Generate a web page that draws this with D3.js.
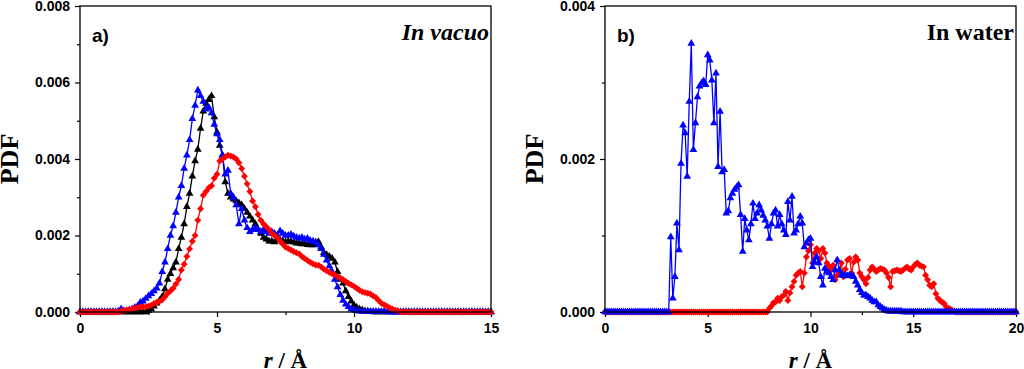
<!DOCTYPE html>
<html><head><meta charset="utf-8">
<script src="https://cdn.jsdelivr.net/npm/d3@7"></script>
<style>body{margin:0;background:#fff}svg{display:block}</style>
</head><body>
<svg id="c" width="1024" height="369"></svg>
<script>
// ---- DATA (PDF values in units of 1e-4, r sampled every 0.1 Å) ----
const rStep = 0.1;
const xTicksA = [0, 5, 10, 15];
const xMinorA = [2.5, 7.5, 12.5];
const yTicksA = [0, 0.002, 0.004, 0.006, 0.008];
const yMinorA = [0.001, 0.003, 0.005, 0.007];
const xTicksB = [0, 5, 10, 15, 20];
const xMinorB = [2.5, 7.5, 12.5, 17.5];
const yTicksB = [0, 0.002, 0.004];
const yMinorB = [0.001, 0.003];

// Panel a) in vacuo, r = 0.0 ... 15.0
const blueVacuo = [
 0,0,0,0,0,0,0,0,0,0,
 0,0,0,0,0.2,0.8,0.3,0.3,0.5,0.8,
 1.2,1.5,2.5,2.8,3.5,4.2,4.8,5.5,6.2,7.5,
 10.5,13,16.5,20,22.5,26,30,33,37.5,41,
 45,50.5,54,58,56.5,55,53,53.5,52,49,
 46.5,45,41,36,37,31,30,28,23,27,
 24,22,21,21.5,22,21.5,21,21.5,21,20.5,
 21,20.5,20,21.2,20.5,20,20,20.3,19.8,19.5,
 19.3,19.5,19,19.2,18.7,18.5,18.3,17.5,16.5,15,
 13.5,12,10.5,8.5,6.5,4.5,3,2,1.4,0.8,
 0.5,0.3,0.2,0.1,0.1,0.1,0.1,0.1,0.1,0.1,
 0.1,0.1,0.1,0,0,0,0,0,0,0,
 0,0,0,0,0,0,0,0,0,0,
 0,0,0,0,0,0,0,0,0,0,
 0,0,0,0,0,0,0,0,0,0,
 0];
const blackVacuo = [
 0,0,0,0,0,0,0,0,0,0,
 0,0,0,0,0,0,0,0,0,0,
 0,0,0,0,0,0.3,0.8,1.5,2.3,3,
 4,6,8.5,10,11.5,13,16.5,19.5,23,27.5,
 31,35.5,39.5,42.5,48,52.5,54.5,55.5,56.5,51,
 47,43.5,41,34,31,30,29.5,29,28.5,28,
 27,26,25,24,23,21.5,20.5,19.5,19,18.5,
 18.5,18.3,18.8,18.8,18.5,18.3,18.5,18.4,18.2,18,
 18,17.8,17.8,17.6,17.5,17.5,17.8,18.4,17,15.5,
 15,14.5,14,13,10.5,8.5,7.5,5.5,4,2.8,
 1.8,1.2,0.8,0.5,0.3,0.2,0.1,0,0,0,
 0,0,0,0,0,0,0,0,0,0,
 0,0,0,0,0,0,0,0,0,0,
 0,0,0,0,0,0,0,0,0,0,
 0,0,0,0,0,0,0,0,0,0,
 0];
const redVacuo = [
 0,0,0,0,0,0,0,0,0,0,
 0,0,0,0,0,0.3,0.4,0.5,0.6,0.8,
 1,1.2,1.4,1.3,1.4,1.5,1.8,2.2,2.5,2.8,
 3.2,4,4.9,5.5,6.2,7.3,8.5,11,12.5,14.5,
 16.5,18.5,20,24,27,30.5,31.5,32.5,33,35,
 36,39.5,40,40.5,41,40.8,40.5,40,39,37.5,
 35.5,33.5,31.5,29,27.5,25.5,24,23,22.3,21.5,
 20.5,20,19.5,18.5,17.8,17,16.6,16.2,15.8,15.5,
 15.2,14.5,14,13.5,13,12.6,12.3,12.2,11.8,11.2,
 10.8,10.4,10,9.7,9.3,8.9,8.5,8,7.5,7.1,
 6.7,6.2,5.7,5.3,5.1,4.9,4.7,4.2,3.8,3,
 2.3,1.9,1.5,1.1,0.8,0.5,0.3,0.1,0,0,
 0,0,0,0,0,0,0,0,0,0,
 0,0,0,0,0,0,0,0,0,0,
 0,0,0,0,0,0,0,0,0,0,
 0];

// Panel b) in water, r = 0.0 ... 20.0
const blueWater = [
 0,0,0,0,0,0,0,0,0,0,
 0,0,0,0,0,0,0,0,0,0,
 0,0,0,0,0,0,0,0,0,0,
 0,0,9.8,1.8,4.6,11.6,8.1,19.4,24.4,23.4,
 17.7,27.5,35.1,21.2,24.7,28.1,29.5,29.9,30.2,29.7,
 33.6,32.9,30.3,24.7,31.2,19,26.2,18.3,18.6,12.9,
 13.2,14.9,15.5,16,16.3,16.6,12.7,7.9,12.2,10.7,
 9.4,11.5,14.2,12.2,12.9,14,13.3,12.6,12,11.2,
 9.6,11.5,12.9,13.3,11.2,12.7,11.5,10.7,10.1,14.4,
 12,15.1,10.3,10.7,11.5,12.5,11.6,8.5,9,9.4,
 9.6,5.9,6.5,7.2,6.4,4.6,3.5,5.7,5.3,5.1,
 4.6,4.2,5.5,6.8,5.5,4.8,4.8,4.8,4.7,4.8,
 4.8,4.6,4,3.5,2.9,2.5,2.2,2.2,2,1.8,
 1.5,1.3,1.3,0.9,0.7,0.5,0.3,0.2,0.1,0.1,
 0.1,0.1,0.1,0.1,0.1,0,0,0,0,0,
 0,0,0,0,0,0,0,0,0,0,
 0,0,0,0,0,0,0,0,0,0,
 0,0,0,0,0,0,0,0,0,0,
 0,0,0,0,0,0,0,0,0,0,
 0,0,0,0,0,0,0,0,0,0,
 0];
const redWater = [
 0,0,0,0,0,0,0,0,0,0,
 0,0,0,0,0,0,0,0,0,0,
 0,0,0,0,0,0,0,0,0,0,
 0,0,0,0,0,0,0,0,0,0,
 0,0,0,0,0,0,0,0,0,0,
 0,0,0,0,0,0,0,0,0,0,
 0,0,0,0,0,0,0,0,0,0,
 0,0,0,0,0,0,0,0,0,0,
 0.5,0.8,1.2,1.3,1.8,1.5,2,2.2,2.7,1.5,
 2.5,3.3,4,4.8,5.1,5.3,3.3,5.1,7.2,8,
 8.8,6.4,7.7,8.3,8,7,8.3,7.7,6.4,6,
 5.5,6.1,4.2,4.8,5.1,6.4,4.6,5.6,6.8,7,
 5.1,6.5,7.2,6.8,5.1,4.6,4.2,3.7,4.5,5.5,
 5.9,5.6,5.3,5.5,5.7,5.6,5.5,5.1,4.5,3.3,
 5.3,5.4,5.5,5.4,5.3,5.5,5.7,5.9,5.6,5.5,
 5.9,6.2,6.4,6.1,6,5.9,4.8,4.2,3.5,3.3,
 3.7,2.4,1.8,1.5,1.3,1.1,0.7,0.5,0.4,0.2,
 0.1,0,0,0,0,0,0,0,0,0,
 0,0,0,0,0,0,0,0,0,0,
 0,0,0,0,0,0,0,0,0,0,
 0];

// ---- DRAWING ----
const svg = d3.select("#c");
const toPts = arr => arr.map((v, i) => ({r: +(i * rStep).toFixed(1), v: v / 1e4}));

const triangle = d3.symbol().type(d3.symbolTriangle).size(26);
const diamond = d3.symbol().type(d3.symbolSquare).size(24);

const panels = [
  {left: 80, right: 491, top: 6, bottom: 312, xMax: 15, yMax: 0.008,
   xTicks: xTicksA, xMinor: xMinorA, yTicks: yTicksA, yMinor: yMinorA,
   series: [
     {data: blackVacuo, color: "#000000", shape: "tri"},
     {data: blueVacuo, color: "#0000ff", shape: "tri"},
     {data: redVacuo, color: "#ff0000", shape: "dia"}],
   tag: "a)", title: "In vacuo", titleItalic: true},
  {left: 605, right: 1016, top: 6, bottom: 312, xMax: 20, yMax: 0.004,
   xTicks: xTicksB, xMinor: xMinorB, yTicks: yTicksB, yMinor: yMinorB,
   series: [
     {data: redWater, color: "#ff0000", shape: "dia"},
     {data: blueWater, color: "#0000ff", shape: "tri"}],
   tag: "b)", title: "In water", titleItalic: false}
];

const sansB = "'Liberation Sans', Arial, sans-serif";
const serif = "'Liberation Serif', 'Times New Roman', serif";

panels.forEach(p => {
  const x = d3.scaleLinear().domain([0, p.xMax]).range([p.left, p.right]);
  const y = d3.scaleLinear().domain([0, p.yMax]).range([p.bottom, p.top]);
  const g = svg.append("g");

  // minor ticks
  g.append("g").attr("transform", `translate(0,${p.bottom})`)
    .call(d3.axisBottom(x).tickValues(p.xMinor).tickSize(3).tickSizeOuter(0).tickFormat(""))
    .call(a => a.select(".domain").remove());
  g.append("g").attr("transform", `translate(${p.left},0)`)
    .call(d3.axisLeft(y).tickValues(p.yMinor).tickSize(3).tickSizeOuter(0).tickFormat(""))
    .call(a => a.select(".domain").remove());

  // major ticks
  const xa = g.append("g").attr("transform", `translate(0,${p.bottom})`)
    .call(d3.axisBottom(x).tickValues(p.xTicks).tickSize(5).tickSizeOuter(0).tickPadding(6).tickFormat(d3.format("d")));
  const ya = g.append("g").attr("transform", `translate(${p.left},0)`)
    .call(d3.axisLeft(y).tickValues(p.yTicks).tickSize(5).tickSizeOuter(0).tickPadding(5).tickFormat(d3.format(".3f")));
  [xa, ya].forEach(a => {
    a.select(".domain").remove();
    a.selectAll("text").attr("font-family", sansB).attr("font-weight", "bold")
      .attr("font-size", 14).attr("fill", "#000");
  });
  g.selectAll(".tick line").attr("stroke", "#000").attr("stroke-width", 1.2);

  // series
  const line = d3.line().x(d => x(d.r)).y(d => y(d.v));
  p.series.forEach(s => {
    const pts = toPts(s.data);
    const sg = g.append("g");
    sg.append("path").attr("d", line(pts)).attr("fill", "none")
      .attr("stroke", s.color).attr("stroke-width", 1.3);
    sg.selectAll("path.m").data(pts).enter().append("path").attr("class", "m")
      .attr("d", s.shape === "tri" ? triangle() : diamond())
      .attr("transform", d => `translate(${x(d.r)},${y(d.v)})` + (s.shape === "dia" ? " rotate(45)" : ""))
      .attr("fill", s.color);
  });

  // frame
  g.append("rect").attr("x", p.left).attr("y", p.top)
    .attr("width", p.right - p.left).attr("height", p.bottom - p.top)
    .attr("fill", "none").attr("stroke", "#000").attr("stroke-width", 1.3);

  // axis titles
  const cy = (p.top + p.bottom) / 2;
  svg.append("text").attr("transform", `translate(${p.left - 62},${cy}) rotate(-90)`)
    .attr("text-anchor", "middle").attr("font-family", serif).attr("font-weight", "bold")
    .attr("font-size", 26).text("PDF");
  const xt = svg.append("text").attr("x", (p.left + p.right) / 2).attr("y", 368)
    .attr("text-anchor", "middle").attr("font-family", serif).attr("font-weight", "bold")
    .attr("font-size", 23);
  xt.append("tspan").attr("font-style", "italic").text("r");
  xt.append("tspan").text(" / Å");

  // tags
  svg.append("text").attr("x", p.left + 12).attr("y", 42)
    .attr("font-family", sansB).attr("font-weight", "bold").attr("font-size", 19).text(p.tag);
  svg.append("text").attr("x", p.right - 2).attr("y", 40).attr("text-anchor", "end")
    .attr("font-family", serif).attr("font-weight", "bold")
    .attr("font-style", p.titleItalic ? "italic" : "normal")
    .attr("font-size", 24).text(p.title);
});
</script>
</body></html>
